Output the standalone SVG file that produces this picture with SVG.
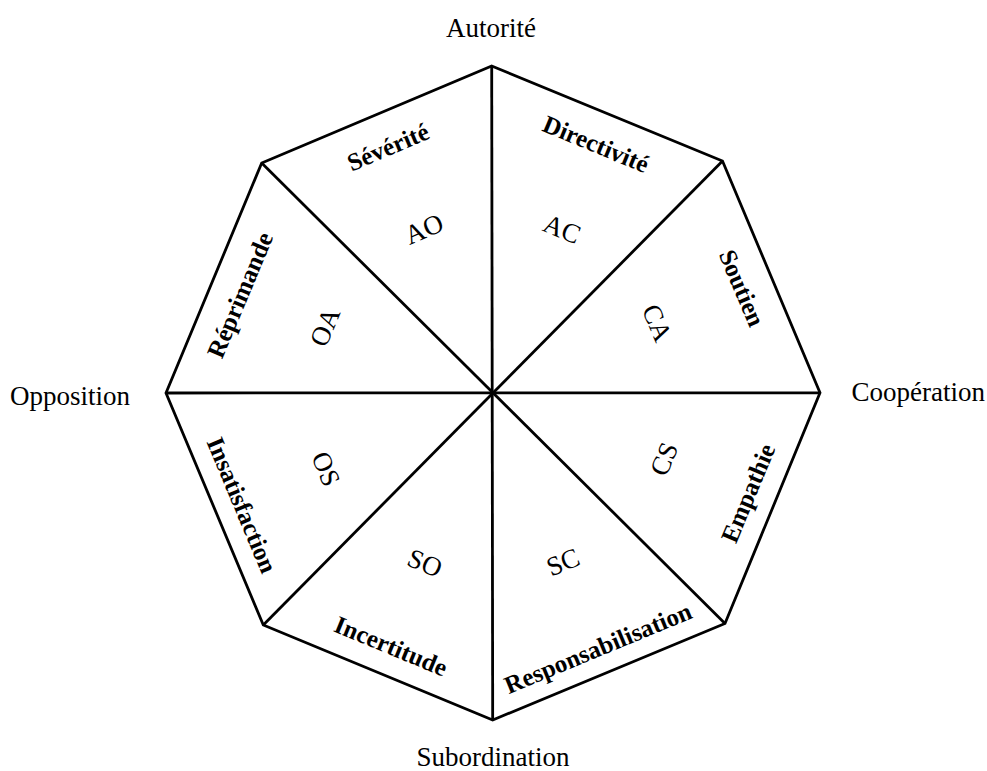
<svg xmlns="http://www.w3.org/2000/svg" width="987" height="771" viewBox="0 0 987 771">
<style>
.edge{fill:none;stroke:#000;stroke-width:2.8;stroke-linejoin:miter}
.ax{font-family:"Liberation Serif",serif;font-size:27px;fill:#000}
.lab{font-family:"Liberation Serif",serif;font-size:25px;font-weight:bold;fill:#000;text-anchor:middle;dominant-baseline:central}
.code{font-family:"Liberation Serif",serif;font-size:27px;fill:#000;text-anchor:middle;dominant-baseline:central}
</style>
<rect width="987" height="771" fill="#fff"/>
<g id="octagon">
<polygon class="edge" points="491.7,66 722.5,161 820,392.8 725,623.5 492.7,720 263.3,625 166,393 261.7,163"/>
</g>
<g id="connectors">
<line class="edge" x1="491.7" y1="66" x2="492.7" y2="720"/>
<line class="edge" x1="166" y1="393" x2="820" y2="392.8"/>
<line class="edge" x1="261.7" y1="163" x2="725" y2="623.5"/>
<line class="edge" x1="722.5" y1="161" x2="263.3" y2="625"/>
</g>
<g id="axes">
<text class="ax" x="491" y="37" text-anchor="middle">Autorité</text>
<text class="ax" x="10" y="405">Opposition</text>
<text class="ax" x="985" y="401" text-anchor="end">Coopération</text>
<text class="ax" x="493" y="766" text-anchor="middle">Subordination</text>
</g>
<g id="AO"><text class="lab" transform="translate(388,147) rotate(-23)">Sévérité</text><text class="code" transform="translate(424,229) rotate(-23)">AO</text></g>
<g id="AC"><text class="lab" transform="translate(596,144) rotate(22.5)">Directivité</text><text class="code" transform="translate(562,229) rotate(22.5)">AC</text></g>
<g id="CA"><text class="lab" transform="translate(742,288) rotate(67)">Soutien</text><text class="code" transform="translate(657,323) rotate(67)">CA</text></g>
<g id="CS"><text class="lab" transform="translate(748,493) rotate(-67.5)">Empathie</text><text class="code" transform="translate(664,459) rotate(-67.5)">CS</text></g>
<g id="SC"><text class="lab" transform="translate(598,648) rotate(-22.5)">Responsabilisation</text><text class="code" transform="translate(563,562) rotate(-22.5)">SC</text></g>
<g id="SO"><text class="lab" transform="translate(391,646) rotate(22.5)">Incertitude</text><text class="code" transform="translate(425,563) rotate(22.5)">SO</text></g>
<g id="OS"><text class="lab" transform="translate(242,505) rotate(67.3)">Insatisfaction</text><text class="code" transform="translate(326,469) rotate(67.3)">OS</text></g>
<g id="OA"><text class="lab" transform="translate(240,295) rotate(-67.3)">Réprimande</text><text class="code" transform="translate(325,327) rotate(-67.3)">OA</text></g>
</svg>
